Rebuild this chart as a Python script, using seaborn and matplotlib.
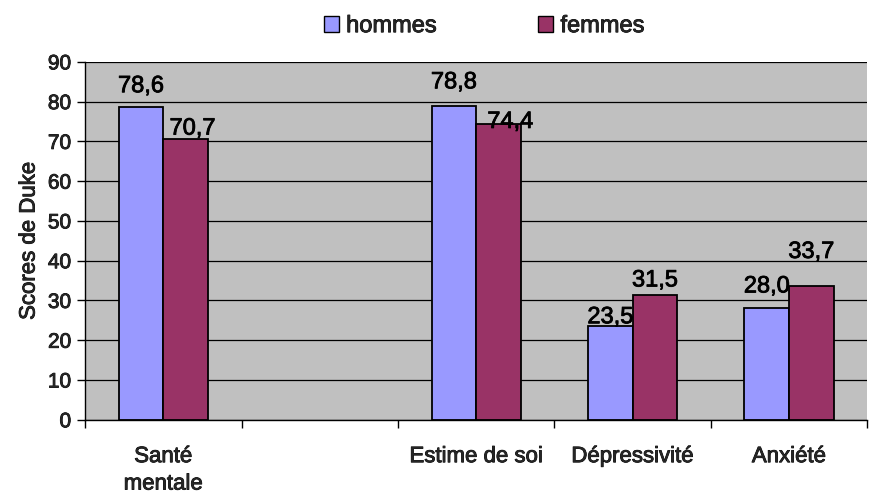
import numpy as np
import pandas as pd
import matplotlib
matplotlib.use("Agg")
import matplotlib.pyplot as plt
import matplotlib.patheffects as pe
import seaborn as sns

categories = ["Santé\nmentale", "", "Estime de soi", "Dépressivité", "Anxiété"]
hommes = [78.6, np.nan, 78.8, 23.5, 28.0]
femmes = [70.7, np.nan, 74.4, 31.5, 33.7]
series = ["hommes", "femmes"]
colors = ["#9999FF", "#993366"]
yticks = [0, 10, 20, 30, 40, 50, 60, 70, 80, 90]

# offsets (points) of each value label baseline from its bar top centre
label_dy = {"hommes": [10.8, 0, 13.0, 2.2, 11.5],
            "femmes": [2.9, 0, -2.9, 5.8, 20.0]}
label_dx = {"hommes": [0, 0, 0, 0, 0],
            "femmes": [5, 0, 8.5, 0, 0]}

sns.set_theme(style="white")
plt.rcParams["font.family"] = ["Liberation Sans", "DejaVu Sans"]
heavy = [pe.withStroke(linewidth=0.6, foreground="black")]

rows = []
for c, h, f in zip(categories, hommes, femmes):
    rows.append({"cat": c, "serie": "hommes", "val": h})
    rows.append({"cat": c, "serie": "femmes", "val": f})
df = pd.DataFrame(rows)

fig = plt.figure(figsize=(8.69, 4.95), dpi=100)
ax = fig.add_axes([0.098, 0.152, 0.9, 0.723])
ax.set_facecolor("#C0C0C0")

sns.barplot(data=df, x="cat", y="val", hue="serie", order=categories,
            hue_order=series, palette=colors, width=0.57, gap=0,
            edgecolor="black", linewidth=1.3, errorbar=None, ax=ax,
            saturation=1, zorder=3)

values = {"hommes": hommes, "femmes": femmes}
for k, name in enumerate(series):
    offset = (k - 0.5) * 0.57 / 2
    for i, v in enumerate(values[name]):
        if np.isnan(v):
            continue
        ax.annotate(f"{v:.1f}".replace(".", ","), xy=(i + offset, v),
                    xytext=(label_dx[name][i], label_dy[name][i]),
                    textcoords="offset points",
                    ha="center", va="baseline", fontsize=17, color="black",
                    zorder=6, path_effects=heavy)

ax.set_ylim(0, 90)
ax.set_xlim(-0.5, len(categories) - 0.5)
ax.set_yticks(yticks)
ax.set_yticklabels([str(t) for t in yticks], fontsize=15)
ax.yaxis.grid(True, color="black", linewidth=0.9, zorder=0)
ax.set_axisbelow(True)

# category boundaries carry the tick marks, centres carry the labels
ax.set_xticks(np.arange(-0.5, len(categories), 1.0))
ax.set_xticklabels([])
ax.set_xticks(np.arange(len(categories)), minor=True)
ax.set_xticklabels(categories, minor=True, fontsize=16, linespacing=1.4)
ax.tick_params(axis="x", which="minor", length=0, pad=19)
ax.tick_params(axis="x", which="major", length=6, width=1, color="black",
               direction="out", bottom=True)
ax.tick_params(axis="y", length=6, width=1, color="black", direction="out",
               left=True, pad=4)

ax.set_xlabel("")
ax.set_ylabel("Scores de Duke", fontsize=16, labelpad=6, path_effects=heavy)

for lab in ax.get_yticklabels() + ax.get_xticklabels(minor=True):
    lab.set_path_effects(heavy)

for s in ["top", "right"]:
    ax.spines[s].set_visible(False)
for s in ["left", "bottom"]:
    ax.spines[s].set_color("black")
    ax.spines[s].set_linewidth(1.0)
    ax.spines[s].set_zorder(5)

leg = ax.legend(loc="upper center", bbox_to_anchor=(0.51, 1.19), ncol=2,
                frameon=False, fontsize=17, handlelength=0.65,
                handleheight=0.65, handletextpad=0.3, columnspacing=4.3)
for h in leg.legend_handles:
    h.set_edgecolor("black")
    h.set_linewidth(1.0)
for t in leg.get_texts():
    t.set_path_effects(heavy)

fig.savefig("out.png", dpi=100, facecolor="white")
